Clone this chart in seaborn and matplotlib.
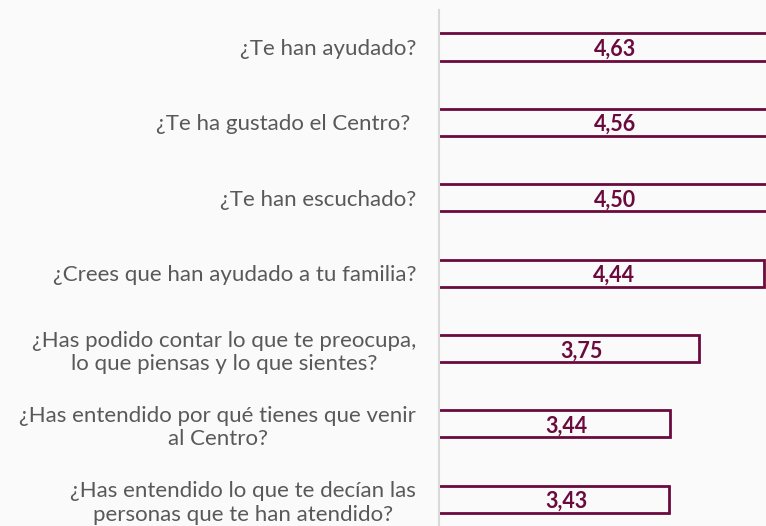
import matplotlib

matplotlib.use("Agg")

import matplotlib.pyplot as plt
import seaborn as sns

questions = [
    "¿Te han ayudado?",
    "¿Te ha gustado el Centro? ",
    "¿Te han escuchado?",
    "¿Crees que han ayudado a tu familia?",
    "¿Has podido contar lo que te preocupa,\nlo que piensas y lo que sientes?",
    "¿Has entendido por qué tienes que venir\nal Centro?",
    "¿Has entendido lo que te decían las\npersonas que te han atendido?",
]
scores = [4.63, 4.56, 4.50, 4.44, 3.75, 3.44, 3.43]
labels = ["4,63", "4,56", "4,50", "4,44", "3,75", "3,44", "3,43"]

bg = "#fafafa"
maroon = "#6b0a3d"
x_min, x_max = 1, 4.457

sns.set_style("white")
plt.rcParams["font.family"] = ["Lato", "DejaVu Sans"]

fig = plt.figure(figsize=(7.66, 5.26), dpi=100, facecolor=bg)
# axes runs past the bottom edge of the figure, as in the cropped original
ax = fig.add_axes([439 / 766, -11 / 526, 327 / 766, 527 / 526])
ax.set_facecolor(bg)

sns.barplot(x=scores, y=questions, orient="h", color=bg, edgecolor=maroon,
            linewidth=2.0, width=0.36, saturation=1, ax=ax)

ax.set_xlim(x_min, x_max)
ax.set_ylim(6.5, -0.49)

for i, (v, lab) in enumerate(zip(scores, labels)):
    xc = (x_min + min(v, x_max)) / 2 + 0.13
    ax.text(xc, i + 0.03, lab, ha="center", va="center", color=maroon,
            fontsize=15.5, fontweight="bold")

ax.set_xticks([])
ax.set_xlabel("")
ax.set_ylabel("")
ax.tick_params(axis="y", length=0, pad=16.5, labelsize=16, labelcolor="#595959")
for t in ax.get_yticklabels():
    t.set_multialignment("center")
    t.set_linespacing(1.22)

for s in ["top", "right", "bottom"]:
    ax.spines[s].set_visible(False)
ax.spines["left"].set_color("#d9d9d9")
ax.spines["left"].set_linewidth(1.5)

plt.savefig("out.png", dpi=100, facecolor=bg)
plt.close()
